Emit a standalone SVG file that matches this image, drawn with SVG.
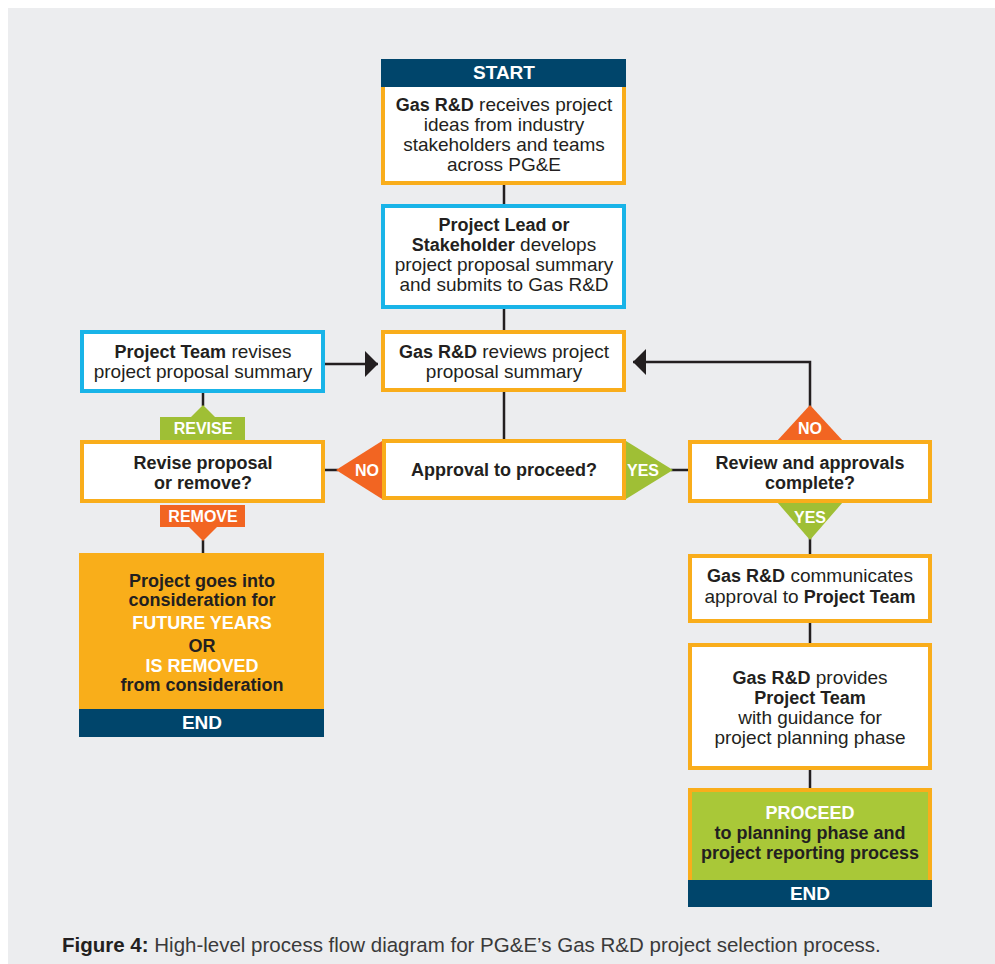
<svg xmlns="http://www.w3.org/2000/svg" width="995" height="964" viewBox="0 0 995 964">
<defs>
<style>
.bg{fill:#ecedef}
.ob{fill:#fff;stroke:#f9ad1b;stroke-width:4}
.bb{fill:#fff;stroke:#19b4e8;stroke-width:4}
.navy{fill:#00456b}
.red{fill:#f26522}
.grn{fill:#9fbf35}
.ln{fill:none;stroke:#231f20;stroke-width:2.5}
text{font-family:"Liberation Sans",Arial,sans-serif;font-size:19px;fill:#231f20;text-anchor:middle}
.b{font-weight:bold;font-size:18px}
.w{fill:#fff;font-weight:bold;font-size:18px}
.se{fill:#fff;font-weight:bold;font-size:19px}
.lbl{fill:#fff;font-weight:bold;font-size:16px}
</style>
<marker id="ah" viewBox="0 0 13 26" refX="13" refY="13" markerWidth="13" markerHeight="26" markerUnits="userSpaceOnUse" orient="auto">
<path d="M0,0 L13,13 L0,26 z" fill="#231f20"/>
</marker>
</defs>
<rect x="0" y="0" width="995" height="964" fill="#fff"/>
<rect class="bg" x="8" y="8" width="987" height="956"/>

<g id="connectors">
<path class="ln" d="M504 185 V204"/>
<path class="ln" d="M504 309 V330"/>
<path class="ln" d="M504 392 V439"/>
<path class="ln" d="M325 364 H378" marker-end="url(#ah)"/>
<path class="ln" d="M203 393 V406"/>
<path class="ln" d="M203 540 V553"/>
<path class="ln" d="M325 470 H338"/>
<path class="ln" d="M671 470 H688"/>
<path class="ln" d="M810 407 V362 H633" marker-end="url(#ah)"/>
<path class="ln" d="M810 538 V554"/>
<path class="ln" d="M810 623 V643"/>
<path class="ln" d="M810 770 V788"/>
</g>

<g id="start">
<rect class="ob" x="383" y="61" width="241" height="122"/>
<rect class="navy" x="381" y="59" width="245" height="28"/>
<text class="se" x="504" y="79">START</text>
<text x="504" y="111"><tspan class="b">Gas R&amp;D</tspan> receives project</text>
<text x="504" y="131">ideas from industry</text>
<text x="504" y="151">stakeholders and teams</text>
<text x="504" y="171">across PG&amp;E</text>
</g>

<g id="develop">
<rect class="bb" x="383" y="206" width="241" height="101"/>
<text class="b" x="504" y="231">Project Lead or</text>
<text x="504" y="251"><tspan class="b">Stakeholder</tspan> develops</text>
<text x="504" y="271">project proposal summary</text>
<text x="504" y="291">and submits to Gas R&amp;D</text>
</g>

<g id="review">
<rect class="ob" x="383" y="332" width="241" height="58"/>
<text x="504" y="358"><tspan class="b">Gas R&amp;D</tspan> reviews project</text>
<text x="504" y="378">proposal summary</text>
</g>

<g id="team-revises">
<rect class="bb" x="82" y="332" width="241" height="59"/>
<text x="203" y="358"><tspan class="b">Project Team</tspan> revises</text>
<text x="203" y="378">project proposal summary</text>
</g>

<g id="revise-or-remove">
<rect class="ob" x="82" y="442" width="241" height="59"/>
<text class="b" x="203" y="469">Revise proposal</text>
<text class="b" x="203" y="489">or remove?</text>
<polygon class="grn" points="190,418 203,405 216,418"/>
<rect class="grn" x="160" y="417" width="85" height="23"/>
<text class="lbl" x="203" y="434">REVISE</text>
<rect class="red" x="160" y="505" width="85" height="22"/>
<polygon class="red" points="188,526 203,541 218,526"/>
<text class="lbl" x="203" y="522">REMOVE</text>
</g>

<g id="approval">
<rect class="ob" x="384" y="441" width="240" height="57"/>
<text class="b" x="504" y="476">Approval to proceed?</text>
<polygon class="red" points="382,441 336,470 382,499"/>
<text class="lbl" x="367" y="476">NO</text>
<polygon class="grn" points="626,441 673,470 626,499"/>
<text class="lbl" x="643" y="476">YES</text>
</g>

<g id="review-complete">
<polygon class="red" points="777,441 810,405 843,441"/>
<polygon class="grn" points="777,502 810,540 843,502"/>
<rect class="ob" x="690" y="442" width="240" height="59"/>
<text class="b" x="810" y="469">Review and approvals</text>
<text class="b" x="810" y="489">complete?</text>
<text class="lbl" x="810" y="434">NO</text>
<text class="lbl" x="810" y="523">YES</text>
</g>

<g id="future-end">
<rect x="79" y="553" width="245" height="157" fill="#f9ae1a"/>
<text class="b" x="202" y="587">Project goes into</text>
<text class="b" x="202" y="606">consideration for</text>
<text class="w" x="202" y="629">FUTURE YEARS</text>
<text class="b" x="202" y="652">OR</text>
<text class="w" x="202" y="672">IS REMOVED</text>
<text class="b" x="202" y="691">from consideration</text>
<rect class="navy" x="79" y="709" width="245" height="28"/>
<text class="se" x="202" y="729">END</text>
</g>

<g id="communicates">
<rect class="ob" x="690" y="556" width="240" height="65"/>
<text x="810" y="582"><tspan class="b">Gas R&amp;D</tspan> communicates</text>
<text x="810" y="603">approval to <tspan class="b">Project Team</tspan></text>
</g>

<g id="guidance">
<rect class="ob" x="690" y="645" width="240" height="123"/>
<text x="810" y="684"><tspan class="b">Gas R&amp;D</tspan> provides</text>
<text class="b" x="810" y="704">Project Team</text>
<text x="810" y="724">with guidance for</text>
<text x="810" y="744">project planning phase</text>
</g>

<g id="proceed-end">
<rect x="690" y="790" width="240" height="92" fill="#a9c838" stroke="#f9ad1b" stroke-width="4"/>
<text class="w" x="810" y="819">PROCEED</text>
<text class="b" x="810" y="839">to planning phase and</text>
<text class="b" x="810" y="859">project reporting process</text>
<rect class="navy" x="688" y="880" width="244" height="27"/>
<text class="se" x="810" y="900">END</text>
</g>

<text x="62" y="952" style="text-anchor:start;font-size:20.5px;fill:#3a3a3a"><tspan font-weight="bold" fill="#231f20">Figure 4:</tspan> High-level process flow diagram for PG&amp;E’s Gas R&amp;D project selection process.</text>
</svg>
